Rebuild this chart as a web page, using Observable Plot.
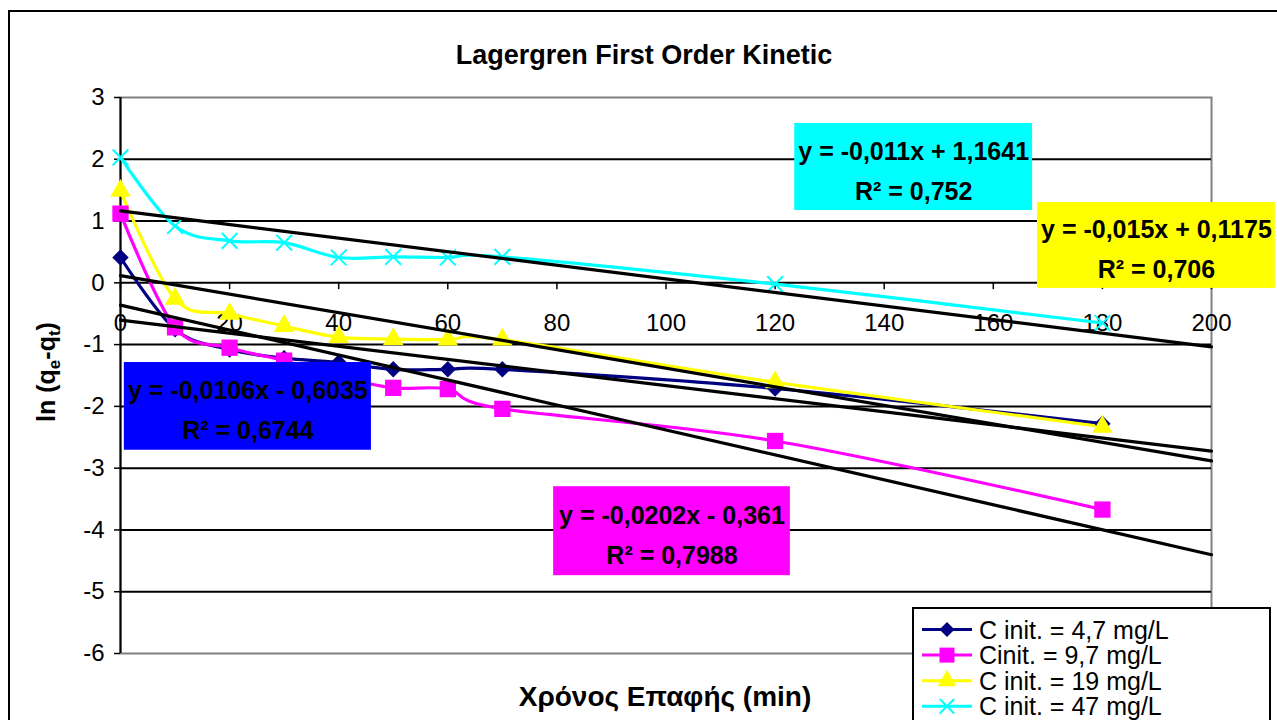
<!DOCTYPE html>
<html>
<head>
<meta charset="utf-8">
<script src="https://cdn.jsdelivr.net/npm/d3@7"></script>
<script src="https://cdn.jsdelivr.net/npm/@observablehq/plot@0.6"></script>
<style>
  body { margin: 0; background: #fff; }
  #chart { position: relative; width: 1277px; height: 720px; overflow: hidden;
           font-family: "Liberation Sans", Arial, sans-serif; background: #fff; }
  #chart > svg { position: absolute; left: 0; top: 0; }
  #frameBox { position: absolute; left: 8px; top: 10px; width: 1320px; height: 800px;
              border: 2px solid #000; pointer-events: none; }
</style>
</head>
<body>
<div id="chart"><div id="frameBox"></div></div>
<script>
// Contact time (min)
const times = [0, 10, 20, 30, 40, 50, 60, 70, 120, 180];

// ln(qe - qt) for each initial concentration
const lnC4_7 = [0.41, -0.75, -1.08, -1.22, -1.29, -1.40, -1.40, -1.40, -1.71, -2.28];
const lnC9_7 = [1.12, -0.72, -1.05, -1.26, -1.52, -1.70, -1.72, -2.04, -2.56, -3.67];
const lnC19  = [1.49, -0.26, -0.50, -0.70, -0.88, -0.91, -0.92, -0.92, -1.61, -2.33];
const lnC47  = [2.03, 0.92, 0.68, 0.65, 0.41, 0.42, 0.41, 0.42, -0.02, -0.65];

const seriesLabels = ["C init. = 4,7 mg/L", "Cinit. = 9,7 mg/L", "C init. = 19 mg/L", "C init. = 47 mg/L"];

// Linear trendlines (slope, intercept, R²)
const trendSlopes     = [-0.0106, -0.0202, -0.015, -0.011];
const trendIntercepts = [-0.6035, -0.361, 0.1175, 1.1641];
const trendR2         = [0.6744, 0.7988, 0.706, 0.752];

const xTicks = [0, 20, 40, 60, 80, 100, 120, 140, 160, 180, 200];
const yTicks = [-6, -5, -4, -3, -2, -1, 0, 1, 2, 3];

// ---- styling -------------------------------------------------------------
const seriesColors = ["#000080", "#ff00ff", "#ffff00", "#00ffff"];
const seriesSymbols = ["diamond2", "square", "triangle", "times"];
const seriesR = [7.4, 9.2, 7.6, 7.2];
const d3Symbols = [d3.symbolDiamond2, d3.symbolSquare, d3.symbolTriangle, d3.symbolTimes];
const boxFills = ["#0000ff", "#ff00ff", "#ffff00", "#00ffff"];
// equation box extents, in data units
const boxExtents = [
  {x1: 0.7, x2: 46.0, y1: -1.29, y2: -2.71},
  {x1: 79.4, x2: 122.8, y1: -3.30, y2: -4.74},
  {x1: 168.1, x2: 211.7, y1: 1.30, y2: -0.09},
  {x1: 123.6, x2: 167.2, y1: 2.58, y2: 1.17}
];

const FONT = '"Liberation Sans", Arial, sans-serif';
const seriesValues = [lnC4_7, lnC9_7, lnC19, lnC47];

const points = seriesValues.flatMap((vals, s) =>
  vals.map((v, i) => ({series: s, t: times[i], v}))
);

const dec = v => String(Math.abs(v)).replace(".", ",");
const equations = trendSlopes.map((m, s) => {
  const b = trendIntercepts[s];
  return `y = ${m < 0 ? "-" : ""}${dec(m)}x ${b < 0 ? "-" : "+"} ${dec(b)}\nR² = ${dec(trendR2[s])}`;
});
const trendSegments = trendSlopes.flatMap((m, s) =>
  [0, 200].map(t => ({series: s, t, v: m * t + trendIntercepts[s]}))
);
const boxes = boxExtents.map((b, s) => ({...b, series: s, text: equations[s]}));

const marks = [
  Plot.frame({stroke: "#808080", strokeWidth: 2}),
  Plot.ruleY(yTicks.filter(d => d > -6 && d < 3), {y: d => d, stroke: "#000", strokeWidth: 2}),
  Plot.ruleX([0], {x: d => d, stroke: "#000", strokeWidth: 2}),
  Plot.axisY({ticks: yTicks, tickSize: 6, tickPadding: 10, fontSize: 24, label: null,
              tickFormat: d => String(d), strokeWidth: 1.5}),
  Plot.ruleX(xTicks, {x: d => d, y1: 0, y2: -0.11, stroke: "#000", strokeWidth: 1.5}),
  Plot.text(xTicks, {x: d => d, y: 0, dy: 40, text: d => String(d), fontSize: 24, fill: "#000"})
];

seriesValues.forEach((vals, s) => {
  const data = points.filter(d => d.series === s);
  marks.push(Plot.line(data, {x: "t", y: "v", stroke: seriesColors[s], strokeWidth: 3.2,
                              curve: "cardinal", tension: 0}));
});
seriesValues.forEach((vals, s) => {
  const data = points.filter(d => d.series === s);
  const hollow = seriesSymbols[s] === "times";
  marks.push(Plot.dot(data, {x: "t", y: "v", symbol: seriesSymbols[s], r: seriesR[s],
    fill: hollow ? "none" : seriesColors[s], stroke: hollow ? seriesColors[s] : "none",
    strokeWidth: hollow ? 2 : 0}));
});
trendSlopes.forEach((m, s) => {
  marks.push(Plot.line(trendSegments.filter(d => d.series === s),
    {x: "t", y: "v", stroke: "#000", strokeWidth: 3.2}));
});
marks.push(Plot.rect(boxes, {x1: "x1", x2: "x2", y1: "y1", y2: "y2", fill: (d) => boxFills[d.series]}));
marks.push(Plot.text(boxes, {x: d => (d.x1 + d.x2) / 2, y: d => (d.y1 + d.y2) / 2, text: "text",
  fontSize: 25, fontWeight: "bold", lineHeight: 1.6, fill: "#000"}));

const chart = Plot.plot({
  width: 1277,
  height: 720,
  marginLeft: 120,
  marginRight: 66,
  marginTop: 97,
  marginBottom: 67,
  style: {fontFamily: FONT, background: "transparent", overflow: "visible"},
  x: {domain: [0, 200], axis: null},
  y: {domain: [-6, 3], axis: null},
  marks
});

const svg = d3.select(chart);
svg.append("text")
  .attr("x", 644).attr("y", 64)
  .attr("text-anchor", "middle")
  .style("font", `bold 27px ${FONT}`)
  .text("Lagergren First Order Kinetic");

svg.append("text")
  .attr("x", 665).attr("y", 706)
  .attr("text-anchor", "middle")
  .style("font", `bold 28px ${FONT}`)
  .text("Χρόνος Επαφής (min)");

const yl = svg.append("text")
  .attr("transform", "translate(55,372) rotate(-90)")
  .attr("text-anchor", "middle")
  .style("font", `bold 25px ${FONT}`);
yl.append("tspan").text("ln (q");
yl.append("tspan").attr("dy", 5).style("font-size", "17px").text("e");
yl.append("tspan").attr("dy", -5).text("-q");
yl.append("tspan").attr("dy", 5).style("font-size", "17px").text("t");
yl.append("tspan").attr("dy", -5).text(")");

document.getElementById("chart").prepend(chart);

// Legend, overlapping the lower-right corner of the plot area
const legend = d3.select("#chart").append("svg")
  .attr("width", 380).attr("height", 130)
  .style("position", "absolute").style("left", "900px").style("top", "598px");
legend.append("rect").attr("x", 13).attr("y", 10).attr("width", 357).attr("height", 200)
  .attr("fill", "#fff").attr("stroke", "#000").attr("stroke-width", 2);
seriesLabels.forEach((label, s) => {
  const cy = 31.5 + s * 25.6;
  legend.append("line").attr("x1", 22).attr("x2", 72).attr("y1", cy).attr("y2", cy)
    .attr("stroke", seriesColors[s]).attr("stroke-width", 3);
  const hollow = seriesSymbols[s] === "times";
  legend.append("path")
    .attr("transform", `translate(47,${cy})`)
    .attr("d", d3.symbol(d3Symbols[s], Math.PI * (seriesR[s] * 0.92) ** 2)())
    .attr("fill", hollow ? "none" : seriesColors[s])
    .attr("stroke", hollow ? seriesColors[s] : "none")
    .attr("stroke-width", 2);
  legend.append("text").attr("x", 79).attr("y", cy + 9)
    .style("font", `25px ${FONT}`).text(label);
});
</script>
</body>
</html>
